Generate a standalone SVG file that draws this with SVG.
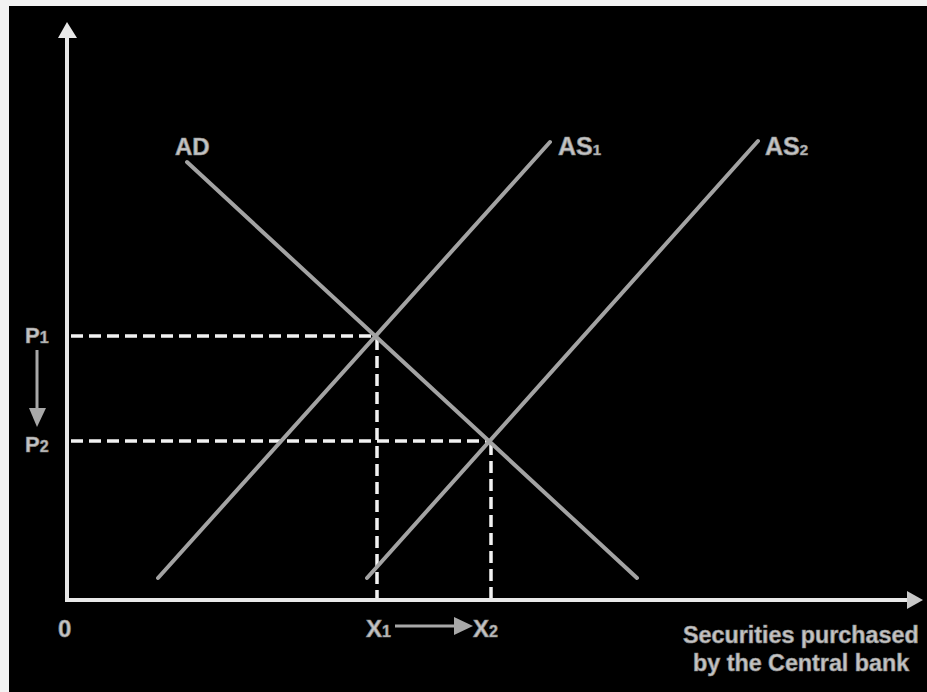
<svg xmlns="http://www.w3.org/2000/svg" width="927" height="692" viewBox="0 0 927 692">
<style>
.axis{stroke:#e8e8e8;stroke-width:4;fill:none}
.curve{stroke:#a3a3a3;stroke-width:4;fill:none;stroke-linecap:round}
.dash{stroke:#f2f2f2;stroke-width:3.5;fill:none;stroke-dasharray:12 6}
.lbl{font-family:"Liberation Sans",Arial,sans-serif;font-weight:bold;fill:#c4c4c4;stroke:#8a8a8a;stroke-width:0.7}
.ptr{stroke:#a8a8a8;stroke-width:3;fill:none}
</style>
<rect x="0" y="0" width="927" height="692" fill="#f2f2f2"/>
<rect x="9" y="6" width="918" height="686" fill="#000"/>
<g id="connectors">
<g id="y-axis">
<line class="axis" x1="67" y1="600" x2="67" y2="36"/>
<polygon points="67,22 58,38 77,38" fill="#e8e8e8"/>
</g>
<g id="x-axis">
<line class="axis" x1="65" y1="600" x2="909" y2="600"/>
<polygon points="923,600 907,591 907,609" fill="#c8c8c8"/>
</g>
<g id="guides">
<line class="dash" x1="71" y1="336" x2="375" y2="336"/>
<line class="dash" x1="71" y1="441" x2="490" y2="441"/>
<line class="dash" x1="377" y1="338" x2="377" y2="598"/>
<line class="dash" x1="491" y1="443" x2="491" y2="598"/>
</g>
<g id="AD-curve"><line class="curve" x1="187" y1="162" x2="637" y2="578"/></g>
<g id="AS1-curve"><line class="curve" x1="158" y1="578" x2="550" y2="142"/></g>
<g id="AS2-curve"><line class="curve" x1="367" y1="578" x2="758" y2="141"/></g>
<g id="price-arrow">
<line class="ptr" x1="37" y1="350" x2="37" y2="410"/>
<polygon points="37,427 29,408 46,408" fill="#a8a8a8"/>
</g>
<g id="quantity-arrow">
<line class="ptr" x1="395" y1="626" x2="456" y2="626"/>
<polygon points="473,626 454,617 454,635" fill="#a8a8a8"/>
</g>
</g>
<g id="labels">
<g id="AD"><text class="lbl" x="175" y="155" font-size="24">AD</text></g>
<g id="AS1"><text class="lbl" x="558" y="155" font-size="25">AS<tspan font-size="15">1</tspan></text></g>
<g id="AS2"><text class="lbl" x="765" y="155" font-size="25">AS<tspan font-size="15">2</tspan></text></g>
<g id="P1"><text class="lbl" x="25" y="343" font-size="22">P<tspan font-size="16">1</tspan></text></g>
<g id="P2"><text class="lbl" x="25" y="452" font-size="22">P<tspan font-size="16">2</tspan></text></g>
<g id="origin"><text class="lbl" x="58" y="637" font-size="24">0</text></g>
<g id="X1"><text class="lbl" x="366" y="637" font-size="24">X<tspan font-size="16">1</tspan></text></g>
<g id="X2"><text class="lbl" x="473" y="637" font-size="24">X<tspan font-size="16">2</tspan></text></g>
<g id="x-axis-label">
<text class="lbl" x="683" y="643" font-size="23.3">Securities purchased</text>
<text class="lbl" x="693" y="671" font-size="23.3">by the Central bank</text>
</g>
</g>
</svg>
